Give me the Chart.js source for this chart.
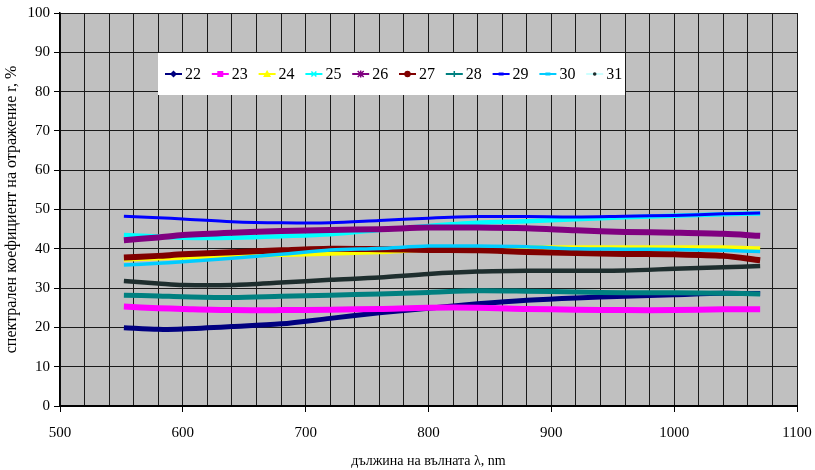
<!DOCTYPE html>
<html>
<head>
<meta charset="utf-8">
<script src="https://cdn.jsdelivr.net/npm/chart.js@4/dist/chart.umd.min.js"></script>
<style>
  html, body { margin: 0; padding: 0; background: #ffffff; }
  #wrap { width: 815px; height: 470px; }
</style>
</head>
<body>
<div id="wrap"><canvas id="c" width="815" height="470"></canvas></div>
<script>
// Wavelengths (nm) at which the spectra are sampled
const wavelengths = [552, 580, 600, 640, 680, 720, 760, 800, 840, 880, 920, 960, 1000, 1040, 1070];

// Spectral reflectance r, % for samples 22 … 31
const s22 = [19.9, 19.5, 19.6, 20.2, 20.9, 22.3, 23.7, 24.9, 26.0, 26.9, 27.5, 27.9, 28.3, 28.7, 28.6];
const s23 = [25.3, 24.9, 24.7, 24.4, 24.4, 24.5, 24.7, 25.0, 25.0, 24.7, 24.5, 24.4, 24.4, 24.6, 24.6];
const s24 = [37.3, 37.6, 37.8, 38.2, 38.5, 38.8, 39.2, 39.8, 40.0, 40.3, 40.3, 40.3, 40.3, 40.3, 40.1];
const s25 = [43.5, 43.1, 42.8, 42.8, 43.2, 43.7, 44.8, 45.8, 46.6, 47.0, 47.5, 48.0, 48.4, 48.8, 49.0];
const s26 = [42.2, 42.9, 43.5, 44.1, 44.5, 44.8, 45.0, 45.4, 45.4, 45.2, 44.7, 44.3, 44.1, 43.8, 43.3];
const s27 = [37.8, 38.2, 38.6, 39.1, 39.6, 40.0, 39.9, 39.7, 39.6, 39.2, 38.9, 38.7, 38.6, 38.2, 37.1];
const s28 = [28.2, 28.0, 27.8, 27.6, 27.9, 28.2, 28.5, 28.9, 29.3, 29.2, 29.0, 28.8, 28.8, 28.7, 28.5];
const s29 = [48.3, 47.9, 47.6, 46.9, 46.6, 46.6, 47.2, 47.8, 48.2, 48.2, 48.1, 48.3, 48.5, 48.9, 49.1];
const s30 = [35.9, 36.3, 36.7, 37.6, 38.6, 39.7, 40.1, 40.7, 40.7, 40.5, 40.0, 39.9, 39.8, 39.6, 39.3];
const s31 = [31.8, 31.2, 30.8, 30.8, 31.4, 32.1, 32.7, 33.6, 34.2, 34.4, 34.4, 34.5, 34.9, 35.3, 35.6];

const seriesNames = ['22', '23', '24', '25', '26', '27', '28', '29', '30', '31'];
const seriesValues = [s22, s23, s24, s25, s26, s27, s28, s29, s30, s31];

// Tick labels
const xTickLabels = [500, 600, 700, 800, 900, 1000, 1100];
const yTickLabels = [0, 10, 20, 30, 40, 50, 60, 70, 80, 90, 100];

// Appearance of each series: line colour, width, legend marker
const styles = [
  { color: '#000080', width: 5,   marker: 'diamond',  mcolor: '#000080' },
  { color: '#FF00FF', width: 6,   marker: 'square',   mcolor: '#FF00FF' },
  { color: '#FFFF00', width: 4.5, marker: 'triangle', mcolor: '#FFFF00' },
  { color: '#00FFFF', width: 4.5, marker: 'cross',    mcolor: '#00FFFF' },
  { color: '#800080', width: 6,   marker: 'star',     mcolor: '#800080' },
  { color: '#800000', width: 6,   marker: 'circle',   mcolor: '#800000' },
  { color: '#008080', width: 5,   marker: 'plus',     mcolor: '#008080' },
  { color: '#0000FF', width: 3,   marker: 'dash',     mcolor: '#0000FF' },
  { color: '#00CCFF', width: 3.5, marker: 'dash',     mcolor: '#00CCFF' },
  { color: '#1E2E2E', width: 4.5, marker: 'dot',      mcolor: '#1E2E2E', legendLine: '#CCFFFF' }
];

const datasets = seriesNames.map((name, i) => ({
  label: name,
  data: wavelengths.map((w, k) => ({ x: w, y: seriesValues[i][k] })),
  borderColor: styles[i].color,
  backgroundColor: styles[i].color,
  borderWidth: styles[i].width,
  pointRadius: 0,
  tension: 0.3,
  fill: false,
  order: seriesNames.length - i
}));

const serif = "'Liberation Serif', 'Times New Roman', serif";

// Grey plotting area
const plotBackground = {
  id: 'plotBackground',
  beforeDraw(chart) {
    const { ctx, chartArea: a } = chart;
    ctx.save();
    ctx.fillStyle = '#C0C0C0';
    ctx.fillRect(a.left, a.top, a.right - a.left, a.bottom - a.top);
    ctx.restore();
  }
};

function drawMarker(ctx, kind, x, y, color) {
  ctx.save();
  ctx.fillStyle = color;
  ctx.strokeStyle = color;
  ctx.lineWidth = 1.5;
  ctx.beginPath();
  switch (kind) {
    case 'diamond':
      ctx.moveTo(x, y - 3.5); ctx.lineTo(x + 3.5, y); ctx.lineTo(x, y + 3.5); ctx.lineTo(x - 3.5, y);
      ctx.closePath(); ctx.fill(); break;
    case 'square':
      ctx.rect(x - 3, y - 3, 6, 6); ctx.fill(); break;
    case 'triangle':
      ctx.moveTo(x, y - 4); ctx.lineTo(x + 4, y + 3); ctx.lineTo(x - 4, y + 3);
      ctx.closePath(); ctx.fill(); break;
    case 'cross':
      ctx.moveTo(x - 2.5, y - 2.5); ctx.lineTo(x + 2.5, y + 2.5);
      ctx.moveTo(x + 2.5, y - 2.5); ctx.lineTo(x - 2.5, y + 2.5);
      ctx.stroke(); break;
    case 'star':
      ctx.moveTo(x - 3, y - 3); ctx.lineTo(x + 3, y + 3);
      ctx.moveTo(x + 3, y - 3); ctx.lineTo(x - 3, y + 3);
      ctx.moveTo(x, y - 3.5); ctx.lineTo(x, y + 3.5);
      ctx.stroke(); break;
    case 'circle':
      ctx.arc(x, y, 3.2, 0, Math.PI * 2); ctx.fill(); break;
    case 'plus':
      ctx.moveTo(x - 3, y); ctx.lineTo(x + 3, y);
      ctx.moveTo(x, y - 3); ctx.lineTo(x, y + 3);
      ctx.stroke(); break;
    case 'dash':
      ctx.rect(x - 2.5, y - 1.5, 5, 3); ctx.fill(); break;
    case 'dot':
      ctx.arc(x, y, 1.8, 0, Math.PI * 2); ctx.fill(); break;
  }
  ctx.restore();
}

// Boxed legend placed inside the plotting area
const boxLegend = {
  id: 'boxLegend',
  afterDraw(chart, args, opts) {
    const { ctx } = chart;
    ctx.save();
    ctx.fillStyle = '#FFFFFF';
    ctx.fillRect(opts.left, opts.top, opts.width, opts.height);
    const cy = opts.top + opts.height / 2;
    ctx.font = opts.font;
    ctx.textBaseline = 'middle';
    ctx.textAlign = 'left';
    chart.data.datasets.forEach((ds, i) => {
      const st = styles[i];
      const x0 = opts.firstX + i * opts.step;
      ctx.strokeStyle = st.legendLine || st.color;
      ctx.lineWidth = 2;
      ctx.beginPath();
      ctx.moveTo(x0, cy);
      ctx.lineTo(x0 + opts.sample, cy);
      ctx.stroke();
      drawMarker(ctx, st.marker, x0 + opts.sample / 2, cy, st.mcolor);
      ctx.fillStyle = '#000000';
      ctx.fillText(ds.label, x0 + opts.sample + 3, cy + 1);
    });
    ctx.restore();
  }
};

new Chart(document.getElementById('c'), {
  type: 'line',
  data: { datasets },
  options: {
    responsive: false,
    devicePixelRatio: 1,
    animation: false,
    events: [],
    layout: { padding: { left: 0, top: 13, right: 18, bottom: 0 } },
    plugins: {
      legend: { display: false },
      tooltip: { enabled: false },
      boxLegend: {
        left: 158, top: 53, width: 467, height: 42,
        firstX: 165, step: 46.8, sample: 17,
        font: "16px " + serif
      }
    },
    scales: {
      x: {
        type: 'linear',
        min: 500, max: 1100,
        afterFit: s => { s.height = 64; s.paddingLeft = 0; s.paddingRight = 0; },
        ticks: {
          stepSize: 20,
          autoSkip: false,
          maxRotation: 0,
          padding: 12,
          color: '#000',
          font: { family: serif, size: 15 },
          callback: v => (xTickLabels.includes(v) ? String(v) : '')
        },
        grid: {
          color: '#1a1a1a',
          lineWidth: 1,
          tickLength: 6,
          tickColor: ctx => (ctx.tick && xTickLabels.includes(ctx.tick.value) ? '#000' : 'rgba(0,0,0,0)')
        },
        border: { color: '#000', width: 2 },
        title: {
          display: true,
          text: 'дължина на вълната λ, nm',
          color: '#000',
          font: { family: serif, size: 14 },
          padding: { top: 0, bottom: 0 }
        }
      },
      y: {
        min: 0, max: 100,
        afterFit: s => { s.width = 60; s.paddingTop = 0; s.paddingBottom = 0; },
        ticks: {
          stepSize: 10,
          padding: 4,
          color: '#000',
          font: { family: serif, size: 15 },
          callback: v => (yTickLabels.includes(v) ? String(v) : '')
        },
        grid: { color: '#1a1a1a', lineWidth: 1, tickLength: 6, tickColor: '#000' },
        border: { color: '#000', width: 1.5 },
        title: {
          display: true,
          text: 'спектрален коефициент на отражение r, %',
          color: '#000',
          font: { family: serif, size: 16 },
          padding: { top: 2, bottom: 0 }
        }
      }
    }
  },
  plugins: [plotBackground, boxLegend]
});
</script>
</body>
</html>
